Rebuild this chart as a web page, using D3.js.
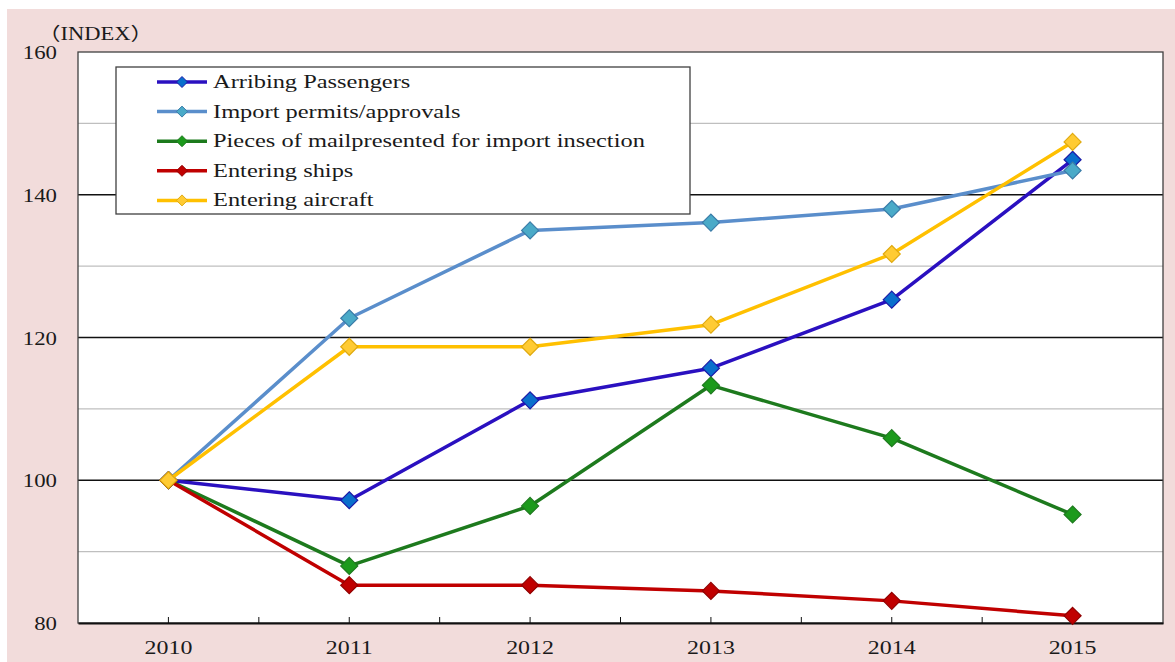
<!DOCTYPE html>
<html>
<head>
<meta charset="utf-8">
<script src="https://cdn.jsdelivr.net/npm/d3@7"></script>
<style>
  html, body { margin: 0; padding: 0; background: #fff; }
  svg { display: block; }
  text { font-family: "Liberation Serif", "Times New Roman", serif; fill: #1a1a1a; }
</style>
</head>
<body>
<div id="chart"></div>
<script>
const years = ["2010", "2011", "2012", "2013", "2014", "2015"];
const seriesNames = [
  "Arribing Passengers",
  "Import permits/approvals",
  "Pieces of mailpresented for import insection",
  "Entering ships",
  "Entering aircraft"
];
const arriving = [100, 97.2, 111.2, 115.7, 125.3, 144.9];
const permits = [100, 122.7, 135.0, 136.1, 138.0, 143.4];
const mail = [100, 88.0, 96.4, 113.3, 105.9, 95.2];
const ships = [100, 85.3, 85.3, 84.5, 83.1, 81.0];
const aircraft = [100, 118.7, 118.7, 121.8, 131.7, 147.4];
const yTicks = [80, 100, 120, 140, 160];
const yMinor = [90, 110, 130, 150];

const lineColors = ["#2a10c0", "#5a8ecb", "#1d7a1d", "#c00000", "#ffc000"];
const markFill = ["#0a6fcc", "#4aaac8", "#1c9a1c", "#c00000", "#ffcb33"];
const markStroke = ["#1a1aa8", "#3a7ca8", "#1f7a1f", "#900000", "#e0aa10"];

const allSeries = [arriving, permits, mail, ships, aircraft];

const W = 1175, H = 662;
const plot = {left: 78, top: 52, right: 1163, bottom: 623};

const svg = d3.select("#chart").append("svg")
  .attr("width", W).attr("height", H);

// text in the picture is drawn wider than normal
function wideText(parent, tx, ty, str, size, anchor, sx) {
  return parent.append("text")
    .attr("transform", `translate(${tx},${ty}) scale(${sx},1)`)
    .attr("text-anchor", anchor || "start")
    .style("font-size", size + "px")
    .text(str);
}

svg.append("rect")
  .attr("x", 7).attr("y", 9).attr("width", W - 7).attr("height", H - 9)
  .attr("fill", "#f2dcdb");

svg.append("rect")
  .attr("x", plot.left).attr("y", plot.top)
  .attr("width", plot.right - plot.left).attr("height", plot.bottom - plot.top)
  .attr("fill", "#fff");

const x = d3.scaleBand().domain(years).range([plot.left, plot.right]);
const y = d3.scaleLinear().domain([80, 160]).range([plot.bottom, plot.top]);

// gridlines
svg.append("g").selectAll("line").data(yMinor).enter().append("line")
  .attr("x1", plot.left).attr("x2", plot.right)
  .attr("y1", d => y(d)).attr("y2", d => y(d))
  .attr("stroke", "#bfbfbf").attr("stroke-width", 1.2);
svg.append("g").selectAll("line").data(yTicks.filter(d => d > 80 && d < 160)).enter().append("line")
  .attr("x1", plot.left).attr("x2", plot.right)
  .attr("y1", d => y(d)).attr("y2", d => y(d))
  .attr("stroke", "#111").attr("stroke-width", 1.6);

// plot frame
svg.append("rect")
  .attr("x", plot.left).attr("y", plot.top)
  .attr("width", plot.right - plot.left).attr("height", plot.bottom - plot.top)
  .attr("fill", "none").attr("stroke", "#404040").attr("stroke-width", 1.3);

// y labels
const yl = svg.append("g");
yTicks.forEach(t => wideText(yl, 57, y(t) + 7, t, 19, "end", 1.2));

wideText(svg, 38, 40, "（INDEX）", 18, "start", 1.25)
  .style("font-family", "'Liberation Serif', 'Noto Sans CJK JP', serif");

// x axis
const xAxis = svg.append("g")
  .attr("transform", `translate(0,${plot.bottom})`)
  .call(d3.axisBottom(x).tickSize(0).tickFormat(""));
xAxis.select(".domain").attr("stroke", "#111").attr("stroke-width", 2);

const xl = svg.append("g");
years.forEach(yr => wideText(xl, x(yr) + x.bandwidth() / 2, 654, yr, 19, "middle", 1.26));

const tickXs = [];
years.forEach((yr, i) => {
  tickXs.push(x(yr) + x.bandwidth() / 2);
  if (i > 0) tickXs.push(x(yr));
});
svg.append("g").selectAll("line").data(tickXs).enter().append("line")
  .attr("x1", d => d).attr("x2", d => d)
  .attr("y1", plot.bottom).attr("y2", plot.bottom - 6)
  .attr("stroke", "#111").attr("stroke-width", 1);

const cx = d => x(d) + x.bandwidth() / 2;
const diamond = r => `M0,${-r}L${r},0L0,${r}L${-r},0Z`;

const line = d3.line()
  .x((d, i) => cx(years[i]))
  .y(d => y(d));

allSeries.forEach((vals, s) => {
  const g = svg.append("g");
  g.append("path")
    .attr("d", line(vals))
    .attr("fill", "none")
    .attr("stroke", lineColors[s])
    .attr("stroke-width", 3.5)
    .attr("stroke-linejoin", "round");
  g.selectAll("path.mk").data(vals).enter().append("path")
    .attr("class", "mk")
    .attr("d", diamond(8.5))
    .attr("transform", (d, i) => `translate(${cx(years[i])},${y(d)})`)
    .attr("fill", markFill[s])
    .attr("stroke", markStroke[s])
    .attr("stroke-width", 1.2);
});

// legend
const lg = svg.append("g");
lg.append("rect")
  .attr("x", 116).attr("y", 67).attr("width", 574).attr("height", 147)
  .attr("fill", "#fff").attr("stroke", "#404040").attr("stroke-width", 1.3);

seriesNames.forEach((name, s) => {
  const ly = 82 + s * 29.6;
  lg.append("line")
    .attr("x1", 157).attr("x2", 207).attr("y1", ly).attr("y2", ly)
    .attr("stroke", lineColors[s]).attr("stroke-width", 3.5);
  lg.append("path")
    .attr("d", diamond(5.5))
    .attr("transform", `translate(182,${ly})`)
    .attr("fill", markFill[s]).attr("stroke", markStroke[s]).attr("stroke-width", 1);
  wideText(lg, 213, ly + 6, name, 18.5, "start", 1.32);
});
</script>
</body>
</html>
